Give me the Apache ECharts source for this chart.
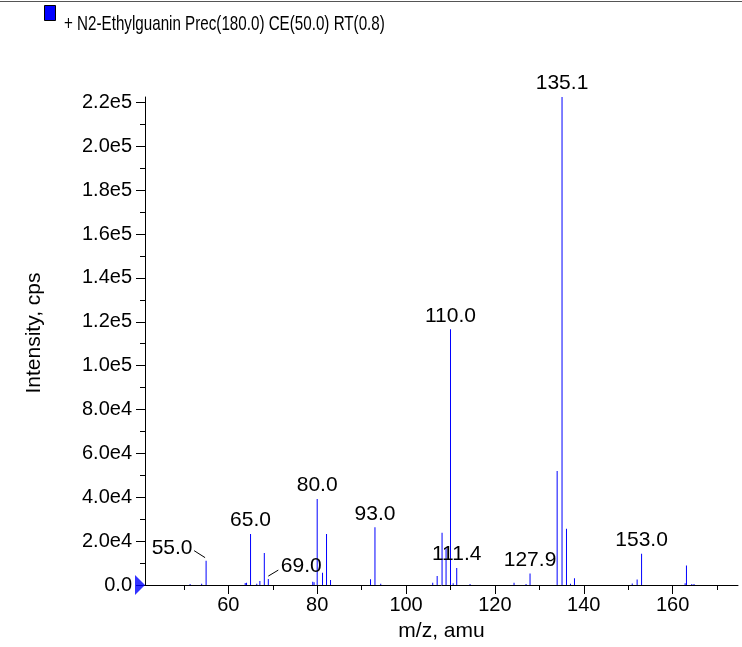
<!DOCTYPE html>
<html>
<head>
<meta charset="utf-8">
<script src="https://cdn.jsdelivr.net/npm/echarts@6/dist/echarts.min.js"></script>
<style>html,body{margin:0;padding:0;background:#fff}#chart{width:742px;height:647px}</style>
</head>
<body>
<div id="chart"></div>
<script>
// ---- data ----
const seriesName = '+ N2-Ethylguanin Prec(180.0) CE(50.0) RT(0.8)';
const mz = [51.4, 54.0, 55.0, 63.8, 64.1, 65.0, 66.4, 67.1, 68.1, 69.0,
            79.0, 79.3, 80.0, 81.2, 82.1, 83.0, 92.0, 93.0, 94.3,
            106.0, 107.0, 108.1, 109.0, 110.0, 110.6, 111.4, 114.4,
            124.3, 127.0, 127.9, 134.0, 135.1, 136.1, 137.0, 137.9,
            150.9, 152.0, 153.0, 162.8, 163.1, 164.3, 164.8];
const intensity = [400, 600, 11100, 900, 1000, 23200, 600, 1800, 14600, 2700,
                   1500, 1200, 39200, 5600, 23200, 2300, 2600, 26300, 600,
                   1000, 4100, 23800, 16700, 116600, 800, 7700, 500,
                   1000, 500, 5200, 52000, 222500, 25600, 600, 3100,
                   700, 2500, 14300, 800, 8900, 400, 400];
const labelMz = [55.0, 65.0, 69.0, 80.0, 93.0, 110.0, 111.4, 127.9, 135.1, 153.0];
const yMajorTicks = [0, 20000, 40000, 60000, 80000, 100000, 120000, 140000, 160000, 180000, 200000, 220000];
const yMinorTicks = [10000, 30000, 50000, 70000, 90000, 110000, 130000, 150000, 170000, 190000, 210000];
const xMajorTicks = [60, 80, 100, 120, 140, 160];
const xMinorTicks = [50, 70, 90, 110, 130, 150, 170];
const xRange = [41.25, 174.7];
const yRange = [0, 222500];

// ---- chart ----
const chart = echarts.init(document.getElementById('chart'), null, {renderer: 'canvas'});
const FONT = '"Liberation Sans", Arial, sans-serif';
const peakData = mz.map((m, i) => [m, intensity[i]]);
const labelData = labelMz.map(m => [m, intensity[mz.indexOf(m)]]);

function yFmt(v) {
  if (v === 0) return '0.0';
  const e = Math.floor(Math.log10(v));
  return (v / Math.pow(10, e)).toFixed(1) + 'e' + e;
}

const axisBase = {
  axisLine: {show: true, lineStyle: {color: '#000', width: 1}},
  splitLine: {show: false},
};

chart.setOption({
  animation: false,
  backgroundColor: '#fff',
  grid: {left: 145, right: 4, top: 97, bottom: 62, containLabel: false},
  graphic: [{
    type: 'line', shape: {x1: 0, y1: 1.5, x2: 742, y2: 1.5},
    style: {stroke: '#555', lineWidth: 1}
  }, {
    type: 'rect', shape: {x: 44.5, y: 5.5, width: 11, height: 15},
    style: {fill: '#0000ff', stroke: '#000', lineWidth: 1}
  }, {
    type: 'text', x: 64, y: 24, scaleX: 0.723, scaleY: 1,
    style: {text: seriesName, font: '21px ' + FONT, fill: '#000', verticalAlign: 'middle', align: 'left'}
  }],
  xAxis: [{
    ...axisBase, type: 'value', min: xRange[0], max: xRange[1], position: 'bottom',
    name: 'm/z, amu', nameLocation: 'middle', nameGap: 36,
    nameTextStyle: {fontFamily: FONT, fontSize: 21, color: '#000'},
    axisTick: {show: true, inside: false, length: 9, lineStyle: {color: '#000'}, customValues: xMajorTicks},
    axisLabel: {show: true, margin: 10, fontFamily: FONT, fontSize: 20, color: '#000', customValues: xMajorTicks,
      formatter: v => String(v)}
  }, {
    type: 'value', min: xRange[0], max: xRange[1], position: 'bottom',
    axisLine: {show: false}, splitLine: {show: false}, axisLabel: {show: false},
    axisTick: {show: true, inside: false, length: 5, lineStyle: {color: '#000'}, customValues: xMinorTicks}
  }],
  yAxis: [{
    ...axisBase, type: 'value', min: yRange[0], max: yRange[1], position: 'left',
    name: 'Intensity, cps', nameLocation: 'middle', nameGap: 100, nameRotate: 90,
    nameTextStyle: {fontFamily: FONT, fontSize: 21, color: '#000', padding: [0, 0, 0, 16]},
    axisTick: {show: true, inside: false, length: 9, lineStyle: {color: '#000'}, customValues: yMajorTicks},
    axisLabel: {show: true, margin: 13, fontFamily: FONT, fontSize: 20, color: '#000', customValues: yMajorTicks,
      formatter: yFmt}
  }, {
    type: 'value', min: yRange[0], max: yRange[1], position: 'left',
    axisLine: {show: false}, splitLine: {show: false}, axisLabel: {show: false},
    axisTick: {show: true, inside: false, length: 5, lineStyle: {color: '#000'}, customValues: yMinorTicks}
  }],
  series: [{
    name: seriesName, type: 'bar', xAxisIndex: 0, yAxisIndex: 0,
    barWidth: 1, itemStyle: {color: '#0000ff'},
    emphasis: {disabled: true},
    data: peakData
  }, {
    name: 'labels', type: 'custom', xAxisIndex: 0, yAxisIndex: 0, clip: false,
    data: labelData, encode: {x: 0, y: 1}, z: 5, silent: true,
    renderItem: function (params, api) {
      const m = api.value(0);
      const p = api.coord([m, api.value(1)]);
      const txt = m.toFixed(1);
      const font = '21px ' + FONT;
      if (txt === '55.0') {
        return {type: 'group', children: [
          {type: 'text', style: {text: txt, x: p[0] - 34, y: p[1] - 12, align: 'center', verticalAlign: 'middle', font: font, fill: '#000'}},
          {type: 'line', shape: {x1: p[0] - 12, y1: p[1] - 10, x2: p[0] - 1, y2: p[1] - 3}, style: {stroke: '#000', lineWidth: 1}}
        ]};
      }
      if (txt === '69.0') {
        return {type: 'group', children: [
          {type: 'text', style: {text: txt, x: p[0] + 33, y: p[1] - 13, align: 'center', verticalAlign: 'middle', font: font, fill: '#000'}},
          {type: 'line', shape: {x1: p[0], y1: p[1] - 3, x2: p[0] + 10, y2: p[1] - 9}, style: {stroke: '#000', lineWidth: 1}}
        ]};
      }
      return {type: 'text', style: {text: txt, x: p[0], y: p[1] - 3, align: 'center', verticalAlign: 'bottom', font: font, fill: '#000'}};
    }
  }, {
    name: 'origin', type: 'scatter', xAxisIndex: 0, yAxisIndex: 0, clip: false, silent: true,
    data: [[xRange[0], 0]], symbol: 'triangle', symbolSize: [20, 10], symbolRotate: -90, symbolOffset: [-5, 0],
    itemStyle: {color: '#0000ff'}, z: 6
  }]
});
</script>
</body>
</html>
